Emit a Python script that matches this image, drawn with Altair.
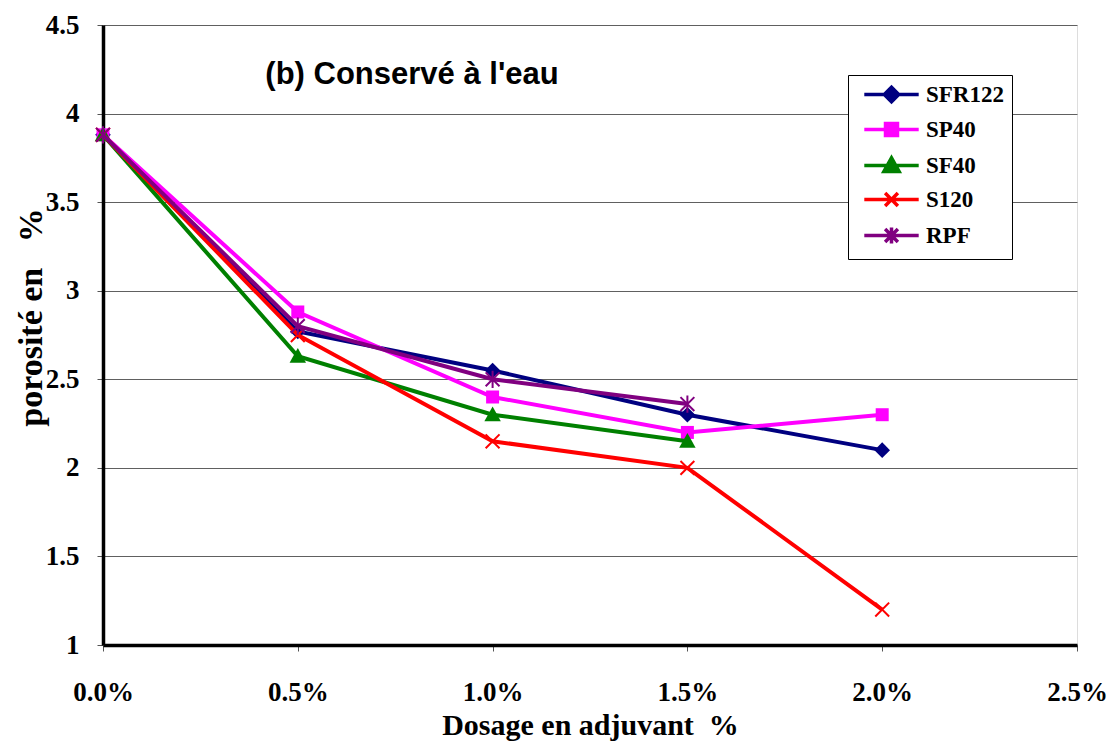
import altair as alt
import pandas as pd

# ---- data ----
series_names = ["SFR122", "SP40", "SF40", "S120", "RPF"]
series_colors = ["#000080", "#FF00FF", "#008000", "#FF0000", "#800080"]
dosage = [0.0, 0.5, 1.0, 1.5, 2.0]
sfr122 = [3.88, 2.77, 2.55, 2.30, 2.10]
sp40 = [3.88, 2.88, 2.40, 2.20, 2.30]
sf40 = [3.88, 2.63, 2.30, 2.15, None]
s120 = [3.88, 2.75, 2.15, 2.00, 1.20]
rpf = [3.88, 2.80, 2.50, 2.36, None]
x_ticks = [0.0, 0.5, 1.0, 1.5, 2.0, 2.5]
y_ticks = [1.0, 1.5, 2.0, 2.5, 3.0, 3.5, 4.0, 4.5]
annotation = "(b) Conservé à l'eau"
x_title = "Dosage en adjuvant\u00a0\u00a0%"
y_title = "porosité en\u00a0\u00a0\u00a0%"

values = {"SFR122": sfr122, "SP40": sp40, "SF40": sf40, "S120": s120, "RPF": rpf}
rows = []
for name in series_names:
    for d, v in zip(dosage, values[name]):
        if v is not None:
            rows.append({"series": name, "dosage": d, "porosite": v})
df = pd.DataFrame(rows)

# marker shapes (unit coordinates)
marker_paths = {
    "SFR122": "M0,-0.9L0.9,0L0,0.9L-0.9,0Z",
    "SP40": "M-0.75,-0.75L0.75,-0.75L0.75,0.75L-0.75,0.75Z",
    "SF40": "M0,-0.95L0.95,0.75L-0.95,0.75Z",
    "S120": "M-0.8,-0.8L0.8,0.8M-0.8,0.8L0.8,-0.8",
    "RPF": "M-0.8,-0.8L0.8,0.8M-0.8,0.8L0.8,-0.8M0,-1L0,1",
}
marker_filled = {"SFR122": True, "SP40": True, "SF40": True, "S120": False, "RPF": False}
legend_paths = ["M-3.4,0L3.4,0" + marker_paths[n] for n in series_names]

SERIF = "Liberation Serif"

x_enc = alt.X(
    "dosage:Q",
    scale=alt.Scale(domain=[0, 2.5], nice=False, zero=False),
    axis=alt.Axis(
        values=x_ticks,
        labelExpr="format(datum.value, '.1f') + '%'",
        labelFlush=False,
        title=x_title,
        grid=False,
        labelFont=SERIF, labelFontSize=27, labelFontWeight="bold", labelColor="black",
        labelPadding=28,
        titleFont=SERIF, titleFontSize=30, titleFontWeight="bold", titleColor="black",
        titleY=89, titleBaseline="alphabetic",
        domainColor="black", domainWidth=3.5,
        tickColor="#555555", tickSize=6, tickWidth=1,
    ),
)
y_enc = alt.Y(
    "porosite:Q",
    scale=alt.Scale(domain=[1, 4.5], nice=False, zero=False),
    axis=alt.Axis(
        values=y_ticks,
        format=".1~f",
        title=y_title,
        grid=True, gridColor="#606060", gridWidth=1,
        labelFont=SERIF, labelFontSize=27, labelFontWeight="bold", labelColor="black",
        labelPadding=18,
        titleFont=SERIF, titleFontSize=34, titleFontWeight="bold", titleColor="black",
        titleX=-72, titleY=292, titleBaseline="middle", titleAlign="center", titleAngle=270,
        domainColor="black", domainWidth=3.5,
        tickColor="#555555", tickSize=6, tickWidth=1,
    ),
)

base = alt.Chart(df)

series_layers = []
for i, (name, col) in enumerate(zip(series_names, series_colors)):
    sub = base.transform_filter(alt.datum.series == name)
    line = sub.mark_line(strokeWidth=4, color=col).encode(
        x=x_enc if i == 0 else alt.X("dosage:Q"),
        y=y_enc if i == 0 else alt.Y("porosite:Q"),
    )
    pts = sub.mark_point(
        shape=marker_paths[name], filled=marker_filled[name], size=300,
        color=col, strokeWidth=2, opacity=1,
    ).encode(x=alt.X("dosage:Q"), y=alt.Y("porosite:Q"))
    series_layers += [line, pts]

leg = dict(
    title=None, orient="none", legendX=745, legendY=50,
    fillColor="white", strokeColor="black", padding=8,
    labelFont=SERIF, labelFontSize=23, labelFontWeight="bold", labelColor="black",
    symbolSize=256, symbolStrokeWidth=3.5, symbolOffset=24, labelOffset=23,
    rowPadding=7, labelLimit=200,
)
# legend provider: same series, moved outside the y domain and clipped away
legend_layer = base.transform_calculate(porosite="0").mark_point(
    filled=True, size=256, strokeWidth=3.5, opacity=1, clip=True
).encode(
    x=alt.X("dosage:Q"), y=alt.Y("porosite:Q"),
    fill=alt.Fill("series:N", scale=alt.Scale(domain=series_names, range=series_colors),
                  legend=alt.Legend(**leg)),
    stroke=alt.Stroke("series:N", scale=alt.Scale(domain=series_names, range=series_colors),
                      legend=alt.Legend(**leg)),
    shape=alt.Shape("series:N", scale=alt.Scale(domain=series_names, range=legend_paths),
                    legend=alt.Legend(**leg)),
)

text_layer = alt.Chart(pd.DataFrame({"t": [annotation]})).mark_text(
    font="Liberation Sans", fontSize=31, fontWeight="bold", color="black",
    align="center", baseline="middle",
).encode(text="t:N", x=alt.value(309), y=alt.value(50))

chart = alt.layer(*series_layers, legend_layer, text_layer).properties(
    width=974, height=620,
    autosize=alt.AutoSizeParams(type="none"),
    padding={"left": 95, "top": 17, "right": 32, "bottom": 98},
).configure_view(stroke="black", strokeWidth=2).configure(background="white")

chart.save("out.html", embed_options={"renderer": "svg", "actions": False})
